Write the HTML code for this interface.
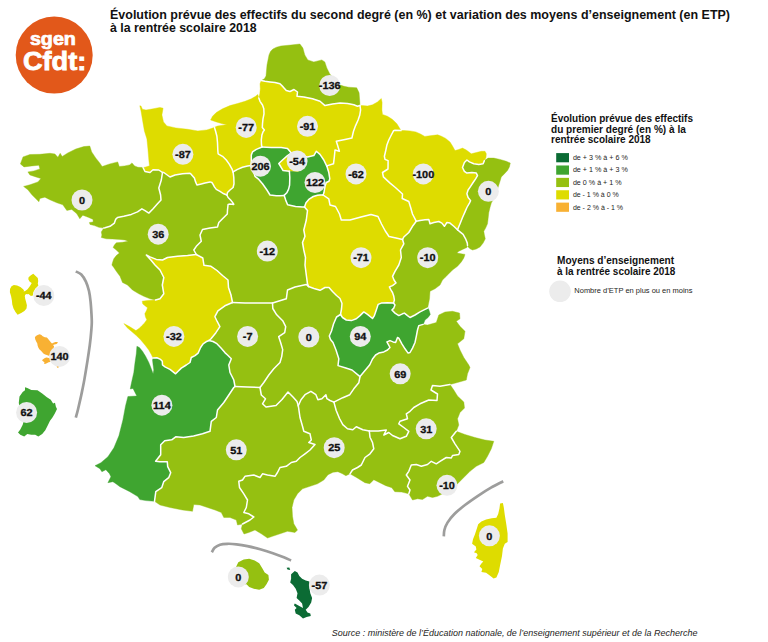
<!DOCTYPE html>
<html><head><meta charset="utf-8"><title>Carte</title>
<style>
html,body{margin:0;padding:0;background:#fff;}
body{width:768px;height:642px;position:relative;overflow:hidden;font-family:"Liberation Sans",sans-serif;color:#111;}
svg{position:absolute;left:0;top:0;}
.t{position:absolute;white-space:nowrap;transform-origin:0 0;}
.b{font-weight:bold;}
</style></head><body>
<svg width="768" height="642" viewBox="0 0 768 642">
<g stroke-linejoin="round">
<polygon fill="#95c011" stroke="#95c011" stroke-width="0.4" points="261.3,80.6 264.4,78.8 266,75.9 267,64.9 269,54.9 270.5,51.5 272.9,49 276.5,47.2 280.9,46 290.9,45 299.9,44 302.9,48 304.8,54.9 307.8,59.9 313.8,61.9 321.8,59.9 324.8,61.9 326.8,67.9 329.8,73.9 334,79 337.5,82.5 339.7,84.8 344,86.3 348.7,87.2 356.7,87.8 359.1,92.8 359.7,100.8 360,105.5 357.5,106.3 353.8,104.8 347.5,103.5 340,103.1 332.5,104 325,105.6 320,101.3 312.5,98.8 303.8,97 297,96.3 297.5,92 294,89.5 290,91.5 286.3,90.6 283.1,86.9 280,83.8 275,82.5 270,81.9 265,81.3"/>
<polygon fill="#dedc00" stroke="#dedc00" stroke-width="0.4" points="261.3,80.6 265,81.3 270,81.9 275,82.5 280,83.8 283.1,86.9 286.3,90.6 290,91.5 294,89.5 297.5,92 297,96.3 303.8,97 312.5,98.8 320,101.3 325,105.6 332.5,104 340,103.1 347.5,103.5 353.8,104.8 357.5,106.3 360,105.5 360.6,110 359.8,115 358.1,120 355.6,125.6 353.5,131.3 352.3,136.3 351.9,138.1 345,139.4 336.3,141.3 337.5,145 339.4,151.3 335,150 334.4,156.3 333.5,163.8 327.5,165.6 326.9,166.3 323.8,160 320,154.4 316.3,151.3 313.8,155.6 307.5,156.9 300,155.5 291.3,153.1 287.5,148.5 281.3,147.5 271.3,147.5 262,147 261.5,145 261.3,140 261.9,135 263,131.9 264.4,130 262.3,127.5 262.5,123.8 263,118.8 264,113.8 263.8,108.8 262.5,105 260,101.3 258.8,98 259.8,93.8 260.3,88.8 260,83.8"/>
<polygon fill="#dedc00" stroke="#dedc00" stroke-width="0.4" points="214.4,127.3 217.5,126 222.5,125.3 226.9,124.8 222.5,123.8 216.3,121.9 210.6,120 212.5,116.3 216.3,112.5 222.5,108.8 230,105.6 237.5,103.5 245,101.3 251.3,98.8 255.6,96.3 257.8,94.4 258.8,98 260,101.3 262.5,105 263.8,108.8 264,113.8 263,118.8 262.5,123.8 262.3,127.5 264.4,130 263,131.9 261.9,135 261.3,140 261.5,145 262,147 256.3,149.4 252.5,151.9 251.3,155 251.3,161.3 251,165.5 247.5,166 242.5,167.3 237.5,169.4 233.1,171.9 231.9,168.8 229.4,164.4 226.3,160 222.5,156.3 218.1,153.8 217.8,150 217.5,142.5 216.9,136.3 215.6,131.3"/>
<polygon fill="#dedc00" stroke="#dedc00" stroke-width="0.4" points="143,167.5 145,167.2 149.5,165.8 148.9,160.8 147.9,148.8 146.9,138.9 144.4,130.9 143,122.9 142,116.9 141,111 139.8,105.8 141,106 142.4,109.2 146,110 151.9,109 159.9,107.4 163.1,108.2 161.9,114.9 163.5,121.9 166.9,125.9 175.9,127.9 187.8,129.3 197.8,130.9 206.8,129.9 212,128.3 214.4,127.3 215.6,131.3 216.9,136.3 217.5,142.5 217.8,150 218.1,153.8 222.5,156.3 226.3,160 229.4,164.4 231.9,168.8 233.1,171.9 233.8,177.5 234,183.8 233.1,187.5 230,190 227.5,192.5 226.9,195 223.8,193.8 220,191.3 216.3,189.4 214.4,186.9 213.1,184.4 211.9,182.5 210,181.9 205,183.1 201.3,184 196.9,185 195.6,181.9 194.4,178.1 191.3,174.4 190,173.3 186,173.5 182.5,173.8 175,175 170,177 163.8,172.5 162.5,172.5 158.8,170 153,169.8 150,172.5 145,171.5"/>
<polygon fill="#95c011" stroke="#95c011" stroke-width="0.4" points="103.8,228.1 98.8,227.3 94.4,225.6 90,224.4 89.4,222.5 93.1,221.9 93.1,219.4 88.8,217.5 82.8,215.2 79.8,218.7 76.8,213.8 71.8,209.4 66.8,210.4 62.8,204.8 56.9,202.8 49.9,199.8 44.9,197.2 39.9,198.4 38.9,201.8 35.9,198.8 31.9,194.8 27.9,189.8 23.6,186.4 29.9,184.8 37.9,181.9 40.9,178.5 35.9,176.9 29.9,174.9 27.9,171.9 33.9,170.9 39.9,168.9 38.9,165.3 31.9,165.9 24,166.9 20.4,163.9 23,156.9 29.9,154.5 39.9,154.3 49.9,153.3 54.9,153.9 57.9,157.3 60.2,153.3 62.2,156.5 67.8,152.9 75.8,149 83.8,146.6 89.8,146 91.7,151.9 95.7,157.9 99.7,162.9 102.1,166.5 109.7,163.9 117.7,161.9 119.3,166.5 124.6,165.9 129.6,164.9 132,162.9 134.6,165.9 138,167.3 143,167.5 145,171.5 150,172.5 153,169.8 158.8,170 162.5,172.5 161.3,180 158.8,188 160.6,195 161,200 157.5,203.8 153.1,208.8 148.8,213.1 145,210.6 141.9,208.8 137.5,211.9 131.3,214.4 123.8,216.3 117.5,217.5 115.6,219.4 114.4,223.1 110,226.3 105,227.8"/>
<polygon fill="#95c011" stroke="#95c011" stroke-width="0.4" points="103.8,228.1 101.3,231.9 101.9,235 101.3,237.5 106.3,238.8 112.5,239 120,239.4 125,240 128.1,241.3 122.5,242.3 116.3,242.8 114.4,245 113.1,247.5 116.3,250 119.4,253.1 116.3,255.6 113.8,258.8 112.5,262.5 111.9,265 113.8,267.5 116.3,271.3 120,276.3 122.5,282.5 127.5,285 132.5,290 138.8,293.8 143.8,296.3 150,298.8 155.5,300 160,298.8 163.8,293.8 162.3,285 163.8,277.5 160,270 155,265 151.3,260.6 146.3,255 150,256.9 156.3,259.4 162.5,260 167.5,257.5 177.5,256.3 187.5,255.5 196.3,254.5 193.8,250 196.3,246.3 201.3,241.3 200,235 202.5,229.5 210,228 217.5,227 218.8,222.5 222.5,218.8 227.3,214 227.5,210 228.1,204.4 230,204 233.8,204.4 233.1,203.1 230.6,200 228.1,197.5 226.9,195 223.8,193.8 220,191.3 216.3,189.4 214.4,186.9 213.1,184.4 211.9,182.5 210,181.9 205,183.1 201.3,184 196.9,185 195.6,181.9 194.4,178.1 191.3,174.4 190,173.3 186,173.5 182.5,173.8 175,175 170,177 163.8,172.5 162.5,172.5 161.3,180 158.8,188 160.6,195 161,200 157.5,203.8 153.1,208.8 148.8,213.1 145,210.6 141.9,208.8 137.5,211.9 131.3,214.4 123.8,216.3 117.5,217.5 115.6,219.4 114.4,223.1 110,226.3 105,227.8"/>
<polygon fill="#95c011" stroke="#95c011" stroke-width="0.4" points="233.1,171.9 237.5,169.4 242.5,167.3 247.5,166 251,165.5 252.5,167.5 255,176.3 258.8,179.4 262.5,183.8 266.9,190 270,195 276.3,195.8 280,195.7 284.2,195.4 285.7,200.1 287.6,204.8 295.6,206.4 302.4,206.9 304.5,206.9 307.5,210.5 306.3,220 303.8,230 305,236.3 302.5,242.5 303.8,250 305.5,257.5 305,265 306.3,275 307.5,283.8 308.5,286.5 306.3,284.5 295,287 287.5,290 286.3,298.8 272.5,303 257.5,303 245,303 232.5,302.5 231,295 228.5,287.5 228,280 222.5,275.5 217,270.5 211,266.3 204,265.3 202.8,258 196.3,254.5 193.8,250 196.3,246.3 201.3,241.3 200,235 202.5,229.5 210,228 217.5,227 218.8,222.5 222.5,218.8 227.3,214 227.5,210 228.1,204.4 230,204 233.8,204.4 233.1,203.1 230.6,200 228.1,197.5 226.9,195 227.5,192.5 230,190 233.1,187.5 234,183.8 233.8,177.5"/>
<polygon fill="#3fa530" stroke="#3fa530" stroke-width="0.4" points="251,165.5 251.3,161.3 251.3,155 252.5,151.9 256.3,149.4 262,147 271.3,147.5 281.3,147.5 287.5,148.5 291.3,153.1 287.5,155.6 282.5,160 278.8,163.5 283.1,170.6 289.4,171.3 289.8,177.5 289.6,185 288.6,189.2 286.8,192.8 284.2,195.4 280,195.7 276.3,195.8 270,195 266.9,190 262.5,183.8 258.8,179.4 255,176.3 252.5,167.5"/>
<polygon fill="#dedc00" stroke="#dedc00" stroke-width="0.4" points="289.4,171.3 283.1,170.6 278.8,163.5 282.5,160 287.5,155.6 291.3,153.1 300,155.5 304,160 303,168 298,172"/>
<polygon fill="#3fa530" stroke="#3fa530" stroke-width="0.4" points="284.2,195.4 286.8,192.8 288.6,189.2 289.6,185 289.8,177.5 289.4,171.3 298,172 303,168 304,160 300,155.5 291.3,153.1 300,155.5 307.5,156.9 313.8,155.6 316.3,151.3 320,154.4 323.8,160 326.9,166.3 328.8,172.5 329.8,178.8 329,181.3 326.3,182.5 325,186.3 324,192.5 323.1,195 320,194.9 317.5,195.2 313.3,196.5 309.2,199.1 306,202.7 304.5,206.9 302.4,206.9 295.6,206.4 287.6,204.8 285.7,200.1"/>
<polygon fill="#dedc00" stroke="#dedc00" stroke-width="0.4" points="360,105.5 362.5,105.6 367.5,106 372.5,104.8 377.5,101.9 381.3,98.5 382.1,102.5 381.9,110 382.5,114.4 387.5,116.3 392.5,119.4 396.9,123.8 400,128.8 401,130.6 395,130.3 393.5,130.8 391.3,135 388.8,140 386.9,145 385.6,151.3 384.4,156.3 385,159.4 388.1,160.6 388,169 382.5,172.5 383.4,176.9 389.8,182.9 395.4,187.5 402.5,194 402.2,198.5 408.8,201.5 410.8,208 412.5,214 416.3,221.3 412.5,226.3 408.8,232.5 403.8,237 402.5,239.5 396,238 389,236.5 385.3,231 381.5,224 378,216.5 371,214.5 361,217 350,220 341.3,220 339.5,214 335.5,206.5 330,205 328.8,198.8 323.1,195 324,192.5 325,186.3 326.3,182.5 329,181.3 329.8,178.8 328.8,172.5 326.9,166.3 327.5,165.6 333.5,163.8 334.4,156.3 335,150 339.4,151.3 337.5,145 336.3,141.3 345,139.4 351.9,138.1 352.3,136.3 353.5,131.3 355.6,125.6 358.1,120 359.8,115 360.6,110"/>
<polygon fill="#dedc00" stroke="#dedc00" stroke-width="0.4" points="401,130.6 403.8,130.5 410,130.9 415.8,131.9 420.5,134 424.8,136.4 429.7,135.8 437.7,134.8 441.5,136.3 445.7,138.4 450,142 452.5,146 455,150.6 458.8,149.4 462.5,148.1 466.3,150 471.3,153.8 476.3,152.5 481.3,151.3 485,151.3 486.3,153.8 486,157.5 484.4,160.6 483.1,163.8 478.8,164.4 473.8,163.8 469.4,161.9 466.9,160 464.4,162.5 462.5,167.5 464.4,171.3 466.9,173.1 471.9,172.5 476.3,173.1 477.5,175.6 475.6,178.8 473.1,182.5 470.6,186.3 468.1,190 466.9,193.8 468.1,197.5 470.6,200.6 469.4,203.1 466.9,207.5 465,211.9 462.5,217.5 460,223.8 457.5,229.8 453.8,226.3 450,223.1 446.9,222.5 444.4,226.3 441.9,223.1 438.8,221.5 433.8,222.5 430,223.8 428.8,219.4 425,219.8 420,220.6 416.3,221.3 412.5,214 410.8,208 408.8,201.5 402.2,198.5 402.5,194 395.4,187.5 389.8,182.9 383.4,176.9 382.5,172.5 388,169 388.1,160.6 385,159.4 384.4,156.3 385.6,151.3 386.9,145 388.8,140 391.3,135 393.5,130.8 395,130.3"/>
<polygon fill="#95c011" stroke="#95c011" stroke-width="0.4" points="484.4,160.6 488.1,158.1 493.8,158.1 500,159.4 506.3,161.3 510.3,163.1 509.4,166.9 507.5,170.6 503.8,174.4 501.3,176.9 500,181.3 498.8,185 496.3,193 493.5,199 491.3,203.1 490,207.5 488.8,212.5 488.1,218.8 487.5,223.8 485.6,228.1 483.8,231.3 484.4,235 485.3,238.8 483.1,243.1 480,246.9 476.3,249 472.5,250 470,248.8 468.1,246.9 467.5,245.5 467.3,243.1 465.6,238.8 463.1,234.4 460,231.9 457.5,229.8 460,223.8 462.5,217.5 465,211.9 466.9,207.5 469.4,203.1 470.6,200.6 468.1,197.5 466.9,193.8 468.1,190 470.6,186.3 473.1,182.5 475.6,178.8 477.5,175.6 476.3,173.1 471.9,172.5 466.9,173.1 464.4,171.3 462.5,167.5 464.4,162.5 466.9,160 469.4,161.9 473.8,163.8 478.8,164.4 483.1,163.8"/>
<polygon fill="#dedc00" stroke="#dedc00" stroke-width="0.4" points="304.5,206.9 306,202.7 309.2,199.1 313.3,196.5 317.5,195.2 320,194.9 323.1,195 328.8,198.8 330,205 335.5,206.5 339.5,214 341.3,220 350,220 361,217 371,214.5 378,216.5 381.5,224 385.3,231 389,236.5 396,238 402.5,239.5 403.8,243.8 400.5,250 401.3,257.5 398.8,265 395,271.3 392.5,276.3 394,280 396,283 392.5,285.6 389.4,286.9 390.6,289.4 392.5,292.5 393.8,296.3 394.4,300 393.5,303.1 387.5,302.8 381.3,303.1 378.1,304.4 376.3,310 374.4,315.6 372.5,318.5 367.5,314.4 363.8,311.9 360,315.6 356.3,318.8 351.3,320.6 346.3,320 342.5,317.5 340.5,314.5 341.5,309 342,303.5 340,298.5 336.5,295.5 332.5,291.5 329,287.5 325,287.5 320,290.3 314,288.5 308.5,286.5 307.5,283.8 306.3,275 305,265 305.5,257.5 303.8,250 302.5,242.5 305,236.3 303.8,230 306.3,220 307.5,210.5"/>
<polygon fill="#95c011" stroke="#95c011" stroke-width="0.4" points="416.3,221.3 420,220.6 425,219.8 428.8,219.4 430,223.8 433.8,222.5 438.8,221.5 441.9,223.1 444.4,226.3 446.9,222.5 450,223.1 453.8,226.3 457.5,229.8 460,231.9 463.1,234.4 465.6,238.8 467.3,243.1 467.5,245.5 466.9,247.5 462.5,249.4 458.8,251.3 456.9,253.1 461.3,253.8 465,254.4 463.8,258.1 461.3,261.9 457.5,266.3 452.5,270 448.8,273.8 445,277.5 442.5,280 440,285 435,288.8 430,291.3 429.5,298.8 428,306.3 428.1,307.8 425,309.4 420,311.9 415,315 410,317.5 407.5,315.6 404.4,313.1 402.5,313.8 398.8,315.6 395,313.1 391.9,310 393.8,308.1 395,305 393.5,303.1 394.4,300 393.8,296.3 392.5,292.5 390.6,289.4 389.4,286.9 392.5,285.6 396,283 394,280 392.5,276.3 395,271.3 398.8,265 401.3,257.5 400.5,250 403.8,243.8 402.5,239.5 403.8,237 408.8,232.5 412.5,226.3"/>
<polygon fill="#dedc00" stroke="#dedc00" stroke-width="0.4" points="155.5,300 147.5,300.5 142.2,301.2 142.8,304 147.5,307.7 146.5,310.5 144.8,313.7 145.5,317 146.8,319.7 144.5,323 141.8,325.7 139,328.5 135.9,330.6 129.9,326.8 123.9,323.6 127,327.6 131.9,331.7 136.3,335.5 140.6,339.8 145,345 148.8,350 151.3,354.4 153.1,358.1 156.9,357.8 160.6,359.4 162.3,361.3 162.5,365 165,366.9 170,369.4 175.6,373.8 178.1,371.3 181.3,368.1 186.3,365 190,362.5 191.3,357.5 195,355.6 198.1,353.1 200.6,347.5 203.1,343.8 206,341.8 209,340.5 211,338.7 215.9,332.7 219.9,326.7 217.3,321.7 214.9,316.7 217.9,310.8 224.9,305.8 232.5,302.5 231,295 228.5,287.5 228,280 222.5,275.5 217,270.5 211,266.3 204,265.3 202.8,258 196.3,254.5 187.5,255.5 177.5,256.3 167.5,257.5 162.5,260 156.3,259.4 150,256.9 146.3,255 151.3,260.6 155,265 160,270 163.8,277.5 162.3,285 163.8,293.8 160,298.8"/>
<polygon fill="#95c011" stroke="#95c011" stroke-width="0.4" points="232.5,302.5 245,303 257.5,303 272.5,303 272.8,308.5 276.7,314.8 282.7,320.7 285.7,326.7 284.7,332.7 278.7,336.7 280.7,342.7 282.7,349.6 281.7,356.6 280,362.5 273.8,368.8 268.8,375 263.8,382.5 260,387.5 247.5,387 235,386.5 233.8,380 230,372.5 228.8,365 231.3,358.8 227.5,355 224.9,352.6 221,348 216.9,343.7 213,341.5 209,340.5 211,338.7 215.9,332.7 219.9,326.7 217.3,321.7 214.9,316.7 217.9,310.8 224.9,305.8"/>
<polygon fill="#95c011" stroke="#95c011" stroke-width="0.4" points="272.5,303 286.3,298.8 287.5,290 295,287 306.3,284.5 308.5,286.5 314,288.5 320,290.3 325,287.5 329,287.5 332.5,291.5 336.5,295.5 340,298.5 342,303.5 341.5,309 340.5,314.5 336.5,317 333.5,324 331.5,331 329.3,336 330.5,339.5 333,342.5 336,350 338.8,358.8 338,365.6 345,367.7 352,370 360,376.6 358.8,382.8 353.8,388.8 349.8,394.7 342.8,397.7 333.9,402.1 330,400.5 326.9,398.7 325.9,394.7 321.9,398.7 317.9,399.7 315.9,394.7 310.9,391.3 305,394.7 301,399.7 298.3,405.7 297,401.5 293,397 288,392 282,399.5 276,405.5 266,407 262.5,403.8 265.5,398.8 261.3,395 260,387.5 263.8,382.5 268.8,375 273.8,368.8 280,362.5 281.7,356.6 282.7,349.6 280.7,342.7 278.7,336.7 284.7,332.7 285.7,326.7 282.7,320.7 276.7,314.8 272.8,308.5"/>
<polygon fill="#3fa530" stroke="#3fa530" stroke-width="0.4" points="340.5,314.5 342.5,317.5 346.3,320 351.3,320.6 356.3,318.8 360,315.6 363.8,311.9 367.5,314.4 372.5,318.5 374.4,315.6 376.3,310 378.1,304.4 381.3,303.1 387.5,302.8 393.5,303.1 395,305 393.8,308.1 391.9,310 395,313.1 398.8,315.6 402.5,313.8 404.4,313.1 407.5,315.6 410,317.5 415,315 420,311.9 425,309.4 428.1,307.8 429.4,311.3 430.3,314.4 428.1,317.5 425,320 423.8,323.1 423.1,324.4 418.8,325.6 417.5,330 416.3,336.3 415,342.5 412.5,348.1 410,352.5 408.1,353.1 405,348.8 401.9,343.8 398.8,338.1 397.5,337.5 395.6,342.5 393.1,341.9 390,340.6 386.9,341.9 390,347.5 387.5,350 383.8,351.9 378.8,353.1 375.6,355 372.5,359 369.8,364.8 364.8,370.8 360,376.6 352,370 345,367.7 338,365.6 338.8,358.8 336,350 333,342.5 330.5,339.5 329.3,336 331.5,331 333.5,324 336.5,317"/>
<polygon fill="#95c011" stroke="#95c011" stroke-width="0.4" points="423.1,324.4 427.5,325 436.3,322.5 438.8,315 445,312 452.5,311.3 459.5,313 460,318.8 456.3,321.3 460,326.3 465,331.3 463.8,338.8 457.5,343.8 460,350 463.8,357.5 468.8,365 470,367.5 467.5,373.8 466.3,380 457.5,382.5 450,384.5 440,386.3 432.5,385.5 431,390 437.5,394 437,400.5 428.8,400 420,403.8 413.8,407.5 410,411.3 406.3,413.8 407.5,418.8 400,421.3 398.8,423.8 403.8,427.5 408.8,431.3 406.3,436.3 400,438.8 392.5,435.5 388.8,432.5 383.8,435 386.3,430 378.3,431.1 369.3,431 362.8,429.8 356.3,426.8 352.8,429.8 347.5,428.8 342.8,424.6 339.5,418.5 336.2,410.5 333.9,402.1 342.8,397.7 349.8,394.7 353.8,388.8 358.8,382.8 360,376.6 364.8,370.8 369.8,364.8 372.5,359 375.6,355 378.8,353.1 383.8,351.9 387.5,350 390,347.5 386.9,341.9 390,340.6 393.1,341.9 395.6,342.5 397.5,337.5 398.8,338.1 401.9,343.8 405,348.8 408.1,353.1 410,352.5 412.5,348.1 415,342.5 416.3,336.3 417.5,330 418.8,325.6"/>
<polygon fill="#95c011" stroke="#95c011" stroke-width="0.4" points="369.3,431 378.3,431.1 386.3,430 383.8,435 388.8,432.5 392.5,435.5 400,438.8 406.3,436.3 408.8,431.3 403.8,427.5 398.8,423.8 400,421.3 407.5,418.8 406.3,413.8 410,411.3 413.8,407.5 420,403.8 428.8,400 437,400.5 437.5,394 431,390 432.5,385.5 440,386.3 450,384.5 453.8,390 457.5,396 463.8,402 464.5,408 460,412.5 457.5,418.8 458.8,425 456.3,431.3 451.3,437.5 455,443.8 460,451.3 458.8,454.5 452.5,455.5 451.3,458 446.3,457.5 440,461.3 436.3,463.8 431.3,461.3 427.5,464.5 421.3,466.3 416.3,464.5 411.3,465 408.8,471.3 406.3,475 410,480 407.5,486.3 410,490 408.8,493.8 401.7,492.1 394.8,491.7 391.8,487.7 385.8,485.7 379.8,482.7 373.8,479.7 369.8,483.7 364.9,482.7 356.9,477.7 350,473.8 352.5,470 357.5,467.5 361.3,465 365,457.5 370,453.8 373.8,448.8 372.5,442.5 370,437.2"/>
<polygon fill="#95c011" stroke="#95c011" stroke-width="0.4" points="456.3,431.3 465,434.5 475,437.5 485,440 493.8,441.3 491.3,448.8 487.5,456.3 483.8,462.5 476.3,466.3 470,471.3 465,476.3 458.8,482.5 455,486.3 450,490 442.5,493.8 437.5,496.3 432.5,497.5 427.5,496.3 422.5,499.5 417.5,498.8 412.5,500 408.8,493.8 410,490 407.5,486.3 410,480 406.3,475 408.8,471.3 411.3,465 416.3,464.5 421.3,466.3 427.5,464.5 431.3,461.3 436.3,463.8 440,461.3 446.3,457.5 451.3,458 452.5,455.5 458.8,454.5 460,451.3 455,443.8 451.3,437.5"/>
<polygon fill="#95c011" stroke="#95c011" stroke-width="0.4" points="298.3,405.7 301,399.7 305,394.7 310.9,391.3 315.9,394.7 317.9,399.7 321.9,398.7 325.9,394.7 326.9,398.7 330,400.5 333.9,402.1 336.2,410.5 339.5,418.5 342.8,424.6 347.5,428.8 352.8,429.8 356.3,426.8 362.8,429.8 369.3,431 370,437.2 372.5,442.5 373.8,448.8 370,453.8 365,457.5 361.3,465 357.5,467.5 352.5,470 350,473.8 345.9,475.7 342,473.5 337.9,471.7 333,472.3 328,474.7 323.8,480 317.5,483.8 310,486.3 302.5,488.8 297.5,493.8 293.8,500 292,507.5 292.5,516.3 293.8,523.8 297.5,530 295,532.5 287.5,531.3 280,533.8 272.5,536.3 267.5,538 261.3,533.8 255,530 248.8,532.5 244,534 241.3,528.8 242.5,524 250,520 253.8,517 248.8,513.8 243.8,512.5 246.3,507.5 247.5,500 243.8,493.8 239.5,487.5 238.8,481.3 242.5,480 245,476.3 253.8,475 260,477.5 262.5,473.8 267.5,475 275,476.3 277.5,472.5 280,467.5 286.3,466.3 291.3,462.5 296.3,461.3 300,457.5 305,453.8 310,450 315,444.5 308.8,442.5 311.3,440 310,433.8 303.8,431.3 302.5,426.3 300,417.5"/>
<polygon fill="#95c011" stroke="#95c011" stroke-width="0.4" points="235,386.5 247.5,387 260,387.5 261.3,395 265.5,398.8 262.5,403.8 266,407 276,405.5 282,399.5 288,392 293,397 297,401.5 298.3,405.7 300,417.5 302.5,426.3 303.8,431.3 310,433.8 311.3,440 308.8,442.5 315,444.5 310,450 305,453.8 300,457.5 296.3,461.3 291.3,462.5 286.3,466.3 280,467.5 277.5,472.5 275,476.3 267.5,475 262.5,473.8 260,477.5 253.8,475 245,476.3 242.5,480 238.8,481.3 239.5,487.5 243.8,493.8 247.5,500 246.3,507.5 243.8,512.5 248.8,513.8 253.8,517 250,520 242.5,524 237.5,525 236.3,520 230,517.5 223.8,517.5 221.3,512.5 215,510 207.5,507.5 200,505 193.8,504.5 192.5,511.3 182.5,510 170,507.5 160,505 154.5,501.3 155.8,491.7 161.7,487.7 163.7,481.7 168.7,477.7 170.7,472.7 167.7,466.7 167.3,461.7 159.8,461.7 155.6,461.3 160.7,454.8 160.7,444.8 164.7,440.8 171.7,439.8 175.7,436.8 183.7,437.6 193.6,436 202.5,433.8 210,431.3 211.3,421.3 216.3,417.5 217.5,410 223.8,402.5 228.8,395 233.8,387.5"/>
<polygon fill="#3fa530" stroke="#3fa530" stroke-width="0.4" points="153.1,358.1 152.5,360 153.1,365 153.8,370 153.1,373.8 151.3,368.8 148.8,362.5 145.6,356.3 142.5,351.3 139.4,347.5 136.9,346.3 136.3,353.8 135,362.5 133.8,372.5 131.8,381.3 130.8,386 130.3,389 133,388.4 136.8,396 127.9,396.5 125.5,405.9 122.9,419.9 118.9,435.8 113.9,447.8 107.9,456.8 100.9,462.7 95,465.7 99.9,468.7 101.9,471.7 105.9,469.7 109.5,473.7 110.9,476.7 107.9,482.7 112.9,481.7 115.9,483.7 119.9,486.7 129.8,491.7 137.8,496.6 139.8,499.6 145.8,500.6 154.5,501.3 155.8,491.7 161.7,487.7 163.7,481.7 168.7,477.7 170.7,472.7 167.7,466.7 167.3,461.7 159.8,461.7 155.6,461.3 160.7,454.8 160.7,444.8 164.7,440.8 171.7,439.8 175.7,436.8 183.7,437.6 193.6,436 202.5,433.8 210,431.3 211.3,421.3 216.3,417.5 217.5,410 223.8,402.5 228.8,395 233.8,387.5 235,386.5 233.8,380 230,372.5 228.8,365 231.3,358.8 227.5,355 224.9,352.6 221,348 216.9,343.7 213,341.5 209,340.5 206,341.8 203.1,343.8 200.6,347.5 198.1,353.1 195,355.6 191.3,357.5 190,362.5 186.3,365 181.3,368.1 178.1,371.3 175.6,373.8 170,369.4 165,366.9 162.5,365 162.3,361.3 160.6,359.4 156.9,357.8"/>
<polygon fill="#dedc00" stroke="none" points="500.1,503.6 502.9,503.1 503.8,507.4 504.8,514.9 506.3,524.2 507.6,533.6 507.6,542 504.8,543.8 502.9,548.5 502,556 500.1,565.3 498.8,571.9 496.4,577.5 493.6,578.4 489.8,575.6 486.1,572.8 481.4,571.9 482.3,569.1 479.5,566.3 481.4,563.5 483.3,561.6 479.5,559.7 475.8,557.9 477.7,555 476.7,553.2 473.9,552.2 476.4,549.4 475.8,546.6 472.1,543.8 473,539.2 474.9,534.5 476.7,528.9 478.2,524.2 481.4,521.4 486.1,519.5 491.7,518.2 496.4,517.7 498.2,513.9 499.5,508.3"/>
<polygon fill="#dedc00" stroke="none" points="33.3,273.7 35.4,275.7 37.8,278.1 38.2,281 37.8,283.8 38.4,285.4 37,287 35.4,288.6 33.3,292.3 32.9,295.5 30.9,295.9 28.5,293.9 27.3,294.3 26.5,293.9 25.2,294.7 24.8,296.3 25.2,298.8 26.1,302 26.9,305.2 26.5,308.5 24.4,310.9 21.2,312.9 17.6,314.8 15.5,312.1 13.5,308.5 12.3,304.4 11.9,300.4 11.1,296.3 9.9,292.3 10,289.1 11.5,286.2 13.9,285 17.1,285.4 20.4,287 22.8,289.1 24,290.3 23.6,291.5 25.2,291.1 27.3,289.5 29.3,287 30.9,284.6 31.7,283 29.7,281.8 28.3,279.3 28.6,277.3 30.9,275.3"/>
<polygon fill="#f8b133" stroke="none" points="34.9,337.3 35.9,335.9 37.6,334.9 39.7,334.3 41.4,334.9 42.7,336.2 44.8,337.3 46.9,337.6 48.2,339 49.6,340.7 51,342.4 52,343.4 53.4,342.7 55.4,342.1 57.5,342.1 57.8,342.7 56.5,344.1 54.4,344.5 53,345.1 54.1,346.2 53.7,347.9 58,352 58,360 52,360 50,361.9 48.6,362.3 47.2,362.9 45.8,363.7 44.1,364 44.5,362.6 43.4,361.6 42.1,360.6 42.7,359.5 44.5,358.2 46.2,357.4 47.9,357.8 49.4,358.2 52,358 52,356 49.4,355.4 48.6,355.8 46.9,355.1 45.1,354.4 43.4,353.5 42.1,352 40.7,350.6 39.3,349.3 38.3,347.5 37.6,345.5 37.3,343.4 36.2,341.4 35.2,339.3"/>
<polygon fill="#f8b133" stroke="none" points="56.8,365 59.5,365 58.5,367.6 57.8,368.1 56.8,367.1"/>
<polygon fill="#3fa530" stroke="none" points="25,387.2 27.3,388 31.3,390 37.5,390.3 42.2,393.4 46.9,397.3 50.8,399.7 53.1,403.6 55,402.8 55.9,406.7 57,409 54.7,413.8 52.3,417.7 50,420.8 47.7,425.5 45.3,430.2 42.2,434 38.3,436.4 35.2,434.8 31.3,434.8 27.3,434 24.2,436.4 20.3,434.8 18,432.5 20.3,429.4 22.7,424.7 23.4,422.3 20,412 18.8,402.8 19.5,396.6 22.7,391.9 25,390.3"/>
<polygon fill="#95c011" stroke="none" points="236.5,566 238.3,562.3 243.7,559.6 249.2,558.7 254.7,560.5 259.2,563.3 262,567.8 264.7,572.4 268.4,575.1 268.9,579.7 266.5,584.2 263.8,587.9 259.2,589.7 253.8,588.8 249.2,586.9 246.5,584.2 240,585 233,575"/>
<polygon fill="#0b6b34" stroke="none" points="291.1,574.2 294.8,571.1 297.5,572.4 299.3,576 302.1,578.7 305.7,580.6 309.4,581.5 309.4,587.9 310.3,593.3 312.1,597.9 311.2,602.4 308.5,607 305.7,609.7 307.5,612.5 310.3,613.4 310.8,616.1 306.6,617 303,618.5 299.3,615.2 295.7,613.4 294.8,609.7 296.6,607.9 293.9,605.2 294.8,603.4 299.3,606.1 303,607.9 302.1,603.4 299.3,600.6 296.6,597.9 297.5,593.3 295.7,588.8 293,585.1 290.2,582.4 291.1,578.7"/>
<polygon fill="#0b6b34" stroke="none" points="286.6,567.8 289.3,567.4 290.2,570 287.5,569.6"/>
</g>
<g fill="none" stroke="#fff" stroke-width="1.5" stroke-linejoin="round" stroke-linecap="round">
<polyline points="261.3,80.6 265,81.3 270,81.9 275,82.5 280,83.8 283.1,86.9 286.3,90.6 290,91.5 294,89.5 297.5,92 297,96.3 303.8,97 312.5,98.8 320,101.3 325,105.6 332.5,104 340,103.1 347.5,103.5 353.8,104.8 357.5,106.3 360,105.5"/>
<polyline points="401,130.6 395,130.3 393.5,130.8 391.3,135 388.8,140 386.9,145 385.6,151.3 384.4,156.3 385,159.4 388.1,160.6 388,169 382.5,172.5 383.4,176.9 389.8,182.9 395.4,187.5 402.5,194 402.2,198.5 408.8,201.5 410.8,208 412.5,214 416.3,221.3"/>
<polyline points="484.4,160.6 483.1,163.8 478.8,164.4 473.8,163.8 469.4,161.9 466.9,160 464.4,162.5 462.5,167.5 464.4,171.3 466.9,173.1 471.9,172.5 476.3,173.1 477.5,175.6 475.6,178.8 473.1,182.5 470.6,186.3 468.1,190 466.9,193.8 468.1,197.5 470.6,200.6 469.4,203.1 466.9,207.5 465,211.9 462.5,217.5 460,223.8 457.5,229.8"/>
<polyline points="457.5,229.8 460,231.9 463.1,234.4 465.6,238.8 467.3,243.1 467.5,245.5"/>
<polyline points="457.5,229.8 453.8,226.3 450,223.1 446.9,222.5 444.4,226.3 441.9,223.1 438.8,221.5 433.8,222.5 430,223.8 428.8,219.4 425,219.8 420,220.6 416.3,221.3"/>
<polyline points="456.3,431.3 451.3,437.5 455,443.8 460,451.3 458.8,454.5 452.5,455.5 451.3,458 446.3,457.5 440,461.3 436.3,463.8 431.3,461.3 427.5,464.5 421.3,466.3 416.3,464.5 411.3,465 408.8,471.3 406.3,475 410,480 407.5,486.3 410,490 408.8,493.8"/>
<polyline points="350,473.8 352.5,470 357.5,467.5 361.3,465 365,457.5 370,453.8 373.8,448.8 372.5,442.5 370,437.2 369.3,431"/>
<polyline points="369.3,431 378.3,431.1 386.3,430 383.8,435 388.8,432.5 392.5,435.5 400,438.8 406.3,436.3 408.8,431.3 403.8,427.5 398.8,423.8 400,421.3 407.5,418.8 406.3,413.8 410,411.3 413.8,407.5 420,403.8 428.8,400 437,400.5 437.5,394 431,390 432.5,385.5 440,386.3 450,384.5"/>
<polyline points="369.3,431 362.8,429.8 356.3,426.8 352.8,429.8 347.5,428.8 342.8,424.6 339.5,418.5 336.2,410.5 333.9,402.1"/>
<polyline points="333.9,402.1 342.8,397.7 349.8,394.7 353.8,388.8 358.8,382.8 360,376.6"/>
<polyline points="333.9,402.1 330,400.5 326.9,398.7 325.9,394.7 321.9,398.7 317.9,399.7 315.9,394.7 310.9,391.3 305,394.7 301,399.7 298.3,405.7"/>
<polyline points="298.3,405.7 297,401.5 293,397 288,392 282,399.5 276,405.5 266,407 262.5,403.8 265.5,398.8 261.3,395 260,387.5"/>
<polyline points="298.3,405.7 300,417.5 302.5,426.3 303.8,431.3 310,433.8 311.3,440 308.8,442.5 315,444.5 310,450 305,453.8 300,457.5 296.3,461.3 291.3,462.5 286.3,466.3 280,467.5 277.5,472.5 275,476.3 267.5,475 262.5,473.8 260,477.5 253.8,475 245,476.3 242.5,480 238.8,481.3 239.5,487.5 243.8,493.8 247.5,500 246.3,507.5 243.8,512.5 248.8,513.8 253.8,517 250,520 242.5,524"/>
<polyline points="154.5,501.3 155.8,491.7 161.7,487.7 163.7,481.7 168.7,477.7 170.7,472.7 167.7,466.7 167.3,461.7 159.8,461.7 155.6,461.3 160.7,454.8 160.7,444.8 164.7,440.8 171.7,439.8 175.7,436.8 183.7,437.6 193.6,436 202.5,433.8 210,431.3 211.3,421.3 216.3,417.5 217.5,410 223.8,402.5 228.8,395 233.8,387.5 235,386.5"/>
<polyline points="235,386.5 233.8,380 230,372.5 228.8,365 231.3,358.8 227.5,355 224.9,352.6 221,348 216.9,343.7 213,341.5 209,340.5"/>
<polyline points="153.1,358.1 156.9,357.8 160.6,359.4 162.3,361.3 162.5,365 165,366.9 170,369.4 175.6,373.8 178.1,371.3 181.3,368.1 186.3,365 190,362.5 191.3,357.5 195,355.6 198.1,353.1 200.6,347.5 203.1,343.8 206,341.8 209,340.5"/>
<polyline points="209,340.5 211,338.7 215.9,332.7 219.9,326.7 217.3,321.7 214.9,316.7 217.9,310.8 224.9,305.8 232.5,302.5"/>
<polyline points="232.5,302.5 231,295 228.5,287.5 228,280 222.5,275.5 217,270.5 211,266.3 204,265.3 202.8,258 196.3,254.5"/>
<polyline points="196.3,254.5 187.5,255.5 177.5,256.3 167.5,257.5 162.5,260 156.3,259.4 150,256.9 146.3,255 151.3,260.6 155,265 160,270 163.8,277.5 162.3,285 163.8,293.8 160,298.8 155.5,300"/>
<polyline points="162.5,172.5 161.3,180 158.8,188 160.6,195 161,200 157.5,203.8 153.1,208.8 148.8,213.1 145,210.6 141.9,208.8 137.5,211.9 131.3,214.4 123.8,216.3 117.5,217.5 115.6,219.4 114.4,223.1 110,226.3 105,227.8 103.8,228.1"/>
<polyline points="143,167.5 145,171.5 150,172.5 153,169.8 158.8,170 162.5,172.5"/>
<polyline points="162.5,172.5 163.8,172.5 170,177 175,175 182.5,173.8 186,173.5 190,173.3 191.3,174.4 194.4,178.1 195.6,181.9 196.9,185 201.3,184 205,183.1 210,181.9 211.9,182.5 213.1,184.4 214.4,186.9 216.3,189.4 220,191.3 223.8,193.8 226.9,195"/>
<polyline points="214.4,127.3 215.6,131.3 216.9,136.3 217.5,142.5 217.8,150 218.1,153.8 222.5,156.3 226.3,160 229.4,164.4 231.9,168.8 233.1,171.9"/>
<polyline points="233.1,171.9 233.8,177.5 234,183.8 233.1,187.5 230,190 227.5,192.5 226.9,195"/>
<polyline points="226.9,195 228.1,197.5 230.6,200 233.1,203.1 233.8,204.4 230,204 228.1,204.4 227.5,210 227.3,214 222.5,218.8 218.8,222.5 217.5,227 210,228 202.5,229.5 200,235 201.3,241.3 196.3,246.3 193.8,250 196.3,254.5"/>
<polyline points="258.8,98 260,101.3 262.5,105 263.8,108.8 264,113.8 263,118.8 262.5,123.8 262.3,127.5 264.4,130 263,131.9 261.9,135 261.3,140 261.5,145 262,147"/>
<polyline points="262,147 256.3,149.4 252.5,151.9 251.3,155 251.3,161.3 251,165.5"/>
<polyline points="233.1,171.9 237.5,169.4 242.5,167.3 247.5,166 251,165.5"/>
<polyline points="251,165.5 252.5,167.5 255,176.3 258.8,179.4 262.5,183.8 266.9,190 270,195 276.3,195.8 280,195.7 284.2,195.4"/>
<polyline points="284.2,195.4 285.7,200.1 287.6,204.8 295.6,206.4 302.4,206.9 304.5,206.9"/>
<polyline points="304.5,206.9 307.5,210.5 306.3,220 303.8,230 305,236.3 302.5,242.5 303.8,250 305.5,257.5 305,265 306.3,275 307.5,283.8 308.5,286.5"/>
<polyline points="308.5,286.5 306.3,284.5 295,287 287.5,290 286.3,298.8 272.5,303"/>
<polyline points="272.5,303 257.5,303 245,303 232.5,302.5"/>
<polyline points="272.5,303 272.8,308.5 276.7,314.8 282.7,320.7 285.7,326.7 284.7,332.7 278.7,336.7 280.7,342.7 282.7,349.6 281.7,356.6 280,362.5 273.8,368.8 268.8,375 263.8,382.5 260,387.5"/>
<polyline points="260,387.5 247.5,387 235,386.5"/>
<polyline points="308.5,286.5 314,288.5 320,290.3 325,287.5 329,287.5 332.5,291.5 336.5,295.5 340,298.5 342,303.5 341.5,309 340.5,314.5"/>
<polyline points="340.5,314.5 336.5,317 333.5,324 331.5,331 329.3,336 330.5,339.5 333,342.5 336,350 338.8,358.8 338,365.6 345,367.7 352,370 360,376.6"/>
<polyline points="323.1,195 320,194.9 317.5,195.2 313.3,196.5 309.2,199.1 306,202.7 304.5,206.9"/>
<polyline points="323.1,195 328.8,198.8 330,205 335.5,206.5 339.5,214 341.3,220 350,220 361,217 371,214.5 378,216.5 381.5,224 385.3,231 389,236.5 396,238 402.5,239.5"/>
<polyline points="402.5,239.5 403.8,243.8 400.5,250 401.3,257.5 398.8,265 395,271.3 392.5,276.3 394,280 396,283 392.5,285.6 389.4,286.9 390.6,289.4 392.5,292.5 393.8,296.3 394.4,300 393.5,303.1"/>
<polyline points="340.5,314.5 342.5,317.5 346.3,320 351.3,320.6 356.3,318.8 360,315.6 363.8,311.9 367.5,314.4 372.5,318.5 374.4,315.6 376.3,310 378.1,304.4 381.3,303.1 387.5,302.8 393.5,303.1"/>
<polyline points="393.5,303.1 395,305 393.8,308.1 391.9,310 395,313.1 398.8,315.6 402.5,313.8 404.4,313.1 407.5,315.6 410,317.5 415,315 420,311.9 425,309.4 428.1,307.8"/>
<polyline points="360,376.6 364.8,370.8 369.8,364.8 372.5,359 375.6,355 378.8,353.1 383.8,351.9 387.5,350 390,347.5 386.9,341.9 390,340.6 393.1,341.9 395.6,342.5 397.5,337.5 398.8,338.1 401.9,343.8 405,348.8 408.1,353.1 410,352.5 412.5,348.1 415,342.5 416.3,336.3 417.5,330 418.8,325.6 423.1,324.4"/>
<polyline points="416.3,221.3 412.5,226.3 408.8,232.5 403.8,237 402.5,239.5"/>
<polyline points="360,105.5 360.6,110 359.8,115 358.1,120 355.6,125.6 353.5,131.3 352.3,136.3 351.9,138.1 345,139.4 336.3,141.3 337.5,145 339.4,151.3 335,150 334.4,156.3 333.5,163.8 327.5,165.6 326.9,166.3"/>
<polyline points="326.9,166.3 323.8,160 320,154.4 316.3,151.3 313.8,155.6 307.5,156.9 300,155.5 291.3,153.1"/>
<polyline points="291.3,153.1 287.5,148.5 281.3,147.5 271.3,147.5 262,147"/>
<polyline points="326.9,166.3 328.8,172.5 329.8,178.8 329,181.3 326.3,182.5 325,186.3 324,192.5 323.1,195"/>
<polyline points="284.2,195.4 286.8,192.8 288.6,189.2 289.6,185 289.8,177.5 289.4,171.3"/>
<polyline points="289.4,171.3 283.1,170.6 278.8,163.5 282.5,160 287.5,155.6 291.3,153.1"/>
</g>
<g fill="none" stroke="#9d9d9c" stroke-width="2.7" stroke-linecap="butt">
<path d="M75.8,271.4 C76.7,271.9 79.6,272.8 81.3,274.5 C83.0,276.2 84.6,278.9 85.9,281.6 C87.2,284.4 88.2,287.6 89,291 C89.8,294.4 90.2,298.0 90.6,301.9 C91.0,305.8 91.3,311.0 91.5,314.4 C91.7,317.8 91.8,319.5 91.8,322 C91.8,324.5 91.7,325.6 91.4,329.4 C91.1,333.2 90.5,339.8 89.8,345 C89.1,350.2 88.4,354.9 87.5,360.6 C86.6,366.3 85.4,373.7 84.4,379.4 C83.4,385.1 82.3,390.1 81.3,395 C80.2,399.9 79.0,405.2 78.1,409 C77.2,412.8 76.2,416.2 75.8,417.7"/>
<path d="M211.8,552.3 C212.3,551.5 213.2,549.1 214.6,547.8 C216.0,546.5 217.9,545.4 220,544.7 C222.1,544.0 224.6,543.9 227.3,543.8 C230.1,543.7 233.2,543.9 236.5,544.3 C239.8,544.7 243.5,545.3 247.4,546.1 C251.3,546.9 255.9,548.1 260.2,549.3 C264.4,550.5 269.0,551.9 272.9,553.2 C276.8,554.5 280.8,556.0 283.8,557.2 C286.8,558.4 289.9,560.0 291.1,560.5"/>
<path d="M503.2,481.2 C501.2,482.3 495.2,485.2 491,487.6 C486.8,490.0 482.3,492.9 478,495.8 C473.7,498.7 468.9,502.0 465,505 C461.1,508.0 457.3,511.1 454.4,514 C451.5,516.9 449.2,519.9 447.5,522.6 C445.8,525.3 445.0,527.7 444.4,530 C443.8,532.3 443.9,535.3 443.8,536.4"/>
</g>
<g fill="#ececec">
<circle cx="329.7" cy="85.5" r="10.5"/>
<circle cx="307.5" cy="126.3" r="10.5"/>
<circle cx="246.2" cy="127.4" r="10.5"/>
<circle cx="182.9" cy="154.3" r="10.5"/>
<circle cx="260.5" cy="166.2" r="10.5"/>
<circle cx="297.1" cy="161" r="10.5"/>
<circle cx="315" cy="182.5" r="10.5"/>
<circle cx="356" cy="173.9" r="10.5"/>
<circle cx="423.3" cy="173.9" r="10.5"/>
<circle cx="488.4" cy="191.3" r="10.5"/>
<circle cx="82" cy="200" r="10.5"/>
<circle cx="158.2" cy="234.2" r="10.5"/>
<circle cx="267.3" cy="251.1" r="10.5"/>
<circle cx="361" cy="257.7" r="10.5"/>
<circle cx="427.7" cy="257.7" r="10.5"/>
<circle cx="173.9" cy="336.4" r="10.5"/>
<circle cx="247.6" cy="336.4" r="10.5"/>
<circle cx="308.8" cy="337" r="10.5"/>
<circle cx="360.3" cy="336.4" r="10.5"/>
<circle cx="400.2" cy="373.8" r="10.5"/>
<circle cx="426.2" cy="428.8" r="10.5"/>
<circle cx="447" cy="485.3" r="10.5"/>
<circle cx="334.2" cy="447.7" r="10.5"/>
<circle cx="236.3" cy="449.8" r="10.5"/>
<circle cx="161.9" cy="405.2" r="10.5"/>
<circle cx="489.4" cy="535.8" r="10.5"/>
<circle cx="43.8" cy="295.6" r="10.5"/>
<circle cx="59.5" cy="356.4" r="10.5"/>
<circle cx="26.6" cy="412.5" r="10.5"/>
<circle cx="238.3" cy="576.9" r="10.5"/>
<circle cx="319.4" cy="585.1" r="10.5"/>
<circle cx="560" cy="291.3" r="10.8"/>
</g>
<g font-family="Liberation Sans, sans-serif" font-weight="bold" font-size="10.2" text-rendering="geometricPrecision" text-anchor="middle" fill="#111" stroke="#111" stroke-width="0.3">
<text transform="translate(329.7,89.25) scale(1.07,1)">-136</text>
<text transform="translate(307.5,130.05) scale(1.07,1)">-91</text>
<text transform="translate(246.2,131.15) scale(1.07,1)">-77</text>
<text transform="translate(182.9,158.05) scale(1.07,1)">-87</text>
<text transform="translate(260.5,169.95) scale(1.07,1)">206</text>
<text transform="translate(297.1,164.75) scale(1.07,1)">-54</text>
<text transform="translate(315,186.25) scale(1.07,1)">122</text>
<text transform="translate(356,177.65) scale(1.07,1)">-62</text>
<text transform="translate(423.3,177.65) scale(1.07,1)">-100</text>
<text transform="translate(488.4,195.05) scale(1.07,1)">0</text>
<text transform="translate(82,203.75) scale(1.07,1)">0</text>
<text transform="translate(158.2,237.95) scale(1.07,1)">36</text>
<text transform="translate(267.3,254.85) scale(1.07,1)">-12</text>
<text transform="translate(361,261.45) scale(1.07,1)">-71</text>
<text transform="translate(427.7,261.45) scale(1.07,1)">-10</text>
<text transform="translate(173.9,340.15) scale(1.07,1)">-32</text>
<text transform="translate(247.6,340.15) scale(1.07,1)">-7</text>
<text transform="translate(308.8,340.75) scale(1.07,1)">0</text>
<text transform="translate(360.3,340.15) scale(1.07,1)">94</text>
<text transform="translate(400.2,377.55) scale(1.07,1)">69</text>
<text transform="translate(426.2,432.55) scale(1.07,1)">31</text>
<text transform="translate(447,489.05) scale(1.07,1)">-10</text>
<text transform="translate(334.2,451.45) scale(1.07,1)">25</text>
<text transform="translate(236.3,453.55) scale(1.07,1)">51</text>
<text transform="translate(161.9,408.95) scale(1.07,1)">114</text>
<text transform="translate(489.4,539.55) scale(1.07,1)">0</text>
<text transform="translate(43.8,299.35) scale(1.07,1)">-44</text>
<text transform="translate(59.5,360.15) scale(1.07,1)">140</text>
<text transform="translate(26.6,416.25) scale(1.07,1)">62</text>
<text transform="translate(238.3,580.65) scale(1.07,1)">0</text>
<text transform="translate(319.4,588.85) scale(1.07,1)">-57</text>
</g>
<circle cx="54.2" cy="55.1" r="38.5" fill="#e2581a"/>
<g font-family="Liberation Sans, sans-serif" font-weight="bold" fill="#fff" text-anchor="middle">
<text x="52.9" y="45" font-size="17.5" textLength="46" lengthAdjust="spacingAndGlyphs" stroke="#fff" stroke-width="0.7">sgen</text>
<text x="54.65" y="70.3" font-size="25" textLength="63.5" lengthAdjust="spacingAndGlyphs" stroke="#fff" stroke-width="0.8">Cfdt:</text>
</g>
<rect x="556.2" y="153.1" width="12.8" height="9.2" fill="#0b6b34"/>
<rect x="556.2" y="165.48" width="12.8" height="9.2" fill="#3fa530"/>
<rect x="556.2" y="177.86" width="12.8" height="9.2" fill="#95c011"/>
<rect x="556.2" y="190.24" width="12.8" height="9.2" fill="#dedc00"/>
<rect x="556.2" y="202.62" width="12.8" height="9.2" fill="#f8b133"/>
<text x="110" y="19" font-family="Liberation Sans, sans-serif" font-size="12.9" font-weight="bold" font-style="normal" fill="#111" textLength="620" lengthAdjust="spacingAndGlyphs">Évolution prévue des effectifs du second degré (en %) et variation des moyens d’enseignement (en ETP)</text>
<text x="110" y="32.2" font-family="Liberation Sans, sans-serif" font-size="12.9" font-weight="bold" font-style="normal" fill="#111" textLength="146.7" lengthAdjust="spacingAndGlyphs">à la rentrée scolaire 2018</text>
<text x="551" y="122" font-family="Liberation Sans, sans-serif" font-size="10.0" font-weight="bold" font-style="normal" fill="#111" textLength="142" lengthAdjust="spacingAndGlyphs">Évolution prévue des effectifs</text>
<text x="551" y="132.5" font-family="Liberation Sans, sans-serif" font-size="10.0" font-weight="bold" font-style="normal" fill="#111" textLength="134.8" lengthAdjust="spacingAndGlyphs">du premier degré (en %) à la</text>
<text x="551" y="143" font-family="Liberation Sans, sans-serif" font-size="10.0" font-weight="bold" font-style="normal" fill="#111" textLength="99.7" lengthAdjust="spacingAndGlyphs">rentrée scolaire 2018</text>
<text x="572.9" y="159.9" font-family="Liberation Sans, sans-serif" font-size="7.3" font-weight="normal" font-style="normal" fill="#1d1d1b" textLength="54.9" lengthAdjust="spacingAndGlyphs">de + 3 % à + 6 %</text>
<text x="572.9" y="172.4" font-family="Liberation Sans, sans-serif" font-size="7.3" font-weight="normal" font-style="normal" fill="#1d1d1b" textLength="54.9" lengthAdjust="spacingAndGlyphs">de + 1 % à + 3 %</text>
<text x="572.9" y="184.9" font-family="Liberation Sans, sans-serif" font-size="7.3" font-weight="normal" font-style="normal" fill="#1d1d1b" textLength="48.7" lengthAdjust="spacingAndGlyphs">de 0 % à + 1 %</text>
<text x="572.9" y="197.4" font-family="Liberation Sans, sans-serif" font-size="7.3" font-weight="normal" font-style="normal" fill="#1d1d1b" textLength="45.85" lengthAdjust="spacingAndGlyphs">de - 1 % à 0 %</text>
<text x="572.9" y="209.9" font-family="Liberation Sans, sans-serif" font-size="7.3" font-weight="normal" font-style="normal" fill="#1d1d1b" textLength="50.2" lengthAdjust="spacingAndGlyphs">de - 2 % à - 1 %</text>
<text x="557" y="264.2" font-family="Liberation Sans, sans-serif" font-size="10.0" font-weight="bold" font-style="normal" fill="#111" textLength="117" lengthAdjust="spacingAndGlyphs">Moyens d’enseignement</text>
<text x="557" y="275.1" font-family="Liberation Sans, sans-serif" font-size="10.0" font-weight="bold" font-style="normal" fill="#111" textLength="118.4" lengthAdjust="spacingAndGlyphs">à la rentrée scolaire 2018</text>
<text x="574.3" y="293.2" font-family="Liberation Sans, sans-serif" font-size="7.4" font-weight="normal" font-style="normal" fill="#1d1d1b" textLength="118.2" lengthAdjust="spacingAndGlyphs">Nombre d’ETP en plus ou en moins</text>
<text x="331.8" y="635.7" font-family="Liberation Sans, sans-serif" font-size="9.7" font-weight="normal" font-style="italic" fill="#1d1d1b" textLength="365.6" lengthAdjust="spacingAndGlyphs">Source : ministère de l’Éducation nationale, de l’enseignement supérieur et de la Recherche</text>
</svg>
</body></html>
